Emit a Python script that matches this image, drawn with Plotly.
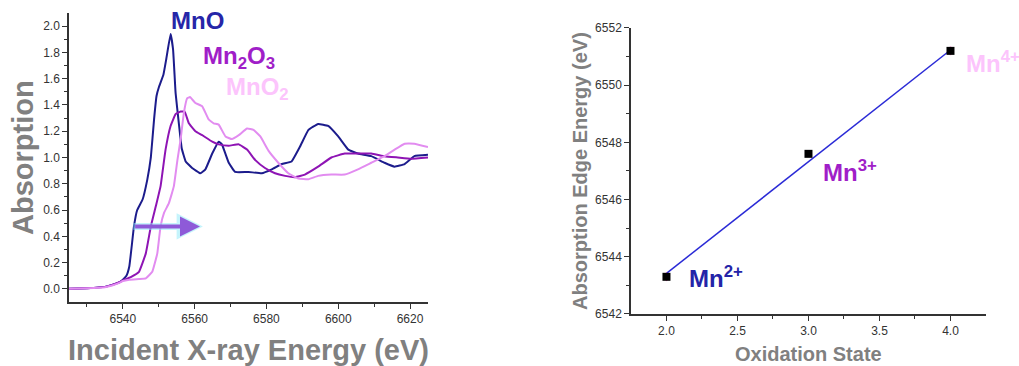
import plotly.graph_objects as go

# ---- Left panel: XANES spectra ----
mno_x = [6525, 6530, 6535, 6537, 6539, 6540, 6541, 6541.8, 6543.1, 6544, 6545.5, 6546.8, 6547.8, 6548.7,
         6549.4, 6550.1, 6551.3, 6552.1, 6553.3, 6554, 6554.7, 6555.6, 6556.4, 6557.5, 6559.3, 6561.6,
         6563, 6564.9, 6566.7, 6567.6, 6569.5, 6571.3, 6575, 6578.7, 6581.5, 6584.3, 6587, 6589.4,
         6591.7, 6594.4, 6597.2, 6600, 6602.8, 6605.5, 6609.2, 6612.9, 6615.7, 6618.5, 6621.2, 6625]
mno_y = [0.0, 0.005, 0.015, 0.03, 0.05, 0.07, 0.1, 0.17, 0.475, 0.6, 0.68, 0.83, 1.0, 1.29,
         1.47, 1.54, 1.63, 1.75, 1.94, 1.82, 1.49, 1.26, 1.07, 0.97, 0.92, 0.88,
         0.91, 1.03, 1.12, 1.10, 0.96, 0.89, 0.89, 0.88, 0.91, 0.95, 0.97, 1.085,
         1.21, 1.255, 1.24, 1.16, 1.06, 1.03, 1.01, 0.96, 0.93, 0.95, 1.01, 1.02]

mn2o3_x = [6525, 6530, 6535, 6537, 6539, 6540, 6542.2, 6544.5, 6546.4, 6547.8, 6549.2, 6550.5, 6551.9,
           6553.3, 6554.7, 6556.1, 6557.2, 6558.4, 6560.2, 6562.1, 6564.9, 6566.7, 6569.5, 6572.3,
           6574.6, 6576.9, 6579.6, 6582.4, 6585.2, 6588, 6590.7, 6594.4, 6598.1, 6601.8, 6605.5,
           6609.2, 6612.9, 6616.6, 6620.3, 6625]
mn2o3_y = [0.0, 0.005, 0.015, 0.03, 0.05, 0.065, 0.09, 0.13, 0.27, 0.475, 0.63, 0.78, 1.06,
           1.24, 1.33, 1.35, 1.35, 1.26, 1.2, 1.17, 1.12, 1.10, 1.09, 1.10,
           1.06, 0.98, 0.92, 0.88, 0.86, 0.85, 0.87, 0.93, 1.0, 1.03, 1.03,
           1.03, 1.01, 1.0, 0.99, 1.0]

mno2_x = [6525, 6530, 6535, 6537, 6539, 6540, 6541.8, 6544.5, 6546.4, 6548.2, 6549.6, 6550.5, 6551.5,
          6552.8, 6554.2, 6555.2, 6556.1, 6557, 6557.9, 6558.7, 6560.2, 6562.1, 6563.9, 6565.3,
          6566.7, 6568.6, 6570.4, 6572.3, 6574.6, 6576.4, 6578.3, 6580.6, 6583.3, 6586.1, 6588.9,
          6591.7, 6594.4, 6598.1, 6601.8, 6605.5, 6609.2, 6612.9, 6615.7, 6618.5, 6621.2, 6625]
mno2_y = [0.0, 0.004, 0.012, 0.025, 0.045, 0.06, 0.07, 0.075, 0.08, 0.13, 0.27, 0.475, 0.58,
          0.65, 0.78, 0.98, 1.14, 1.34, 1.45, 1.46, 1.415, 1.39, 1.29, 1.26,
          1.25, 1.16, 1.14, 1.17, 1.22, 1.21, 1.16, 1.05, 0.96, 0.88, 0.84,
          0.835, 0.86, 0.87, 0.87, 0.91, 0.96, 1.01, 1.06, 1.105, 1.105, 1.08]

# ---- Right panel: edge energy vs oxidation state ----
ox_state = [2.0, 3.0, 4.0]
edge_energy = [6543.3, 6547.6, 6551.2]
edge_err = [0.15, 0.0, 0.15]
fit_x = [2.0, 4.0]
fit_y = [6543.42, 6551.23]
ion_labels = ["Mn<sup>2+</sup>", "Mn<sup>3+</sup>", "Mn<sup>4+</sup>"]

C_MNO = "#1c1c8c"
C_MN2O3 = "#8e14b4"
C_MNO2 = "#e28cf0"
GRAY = "#808080"
AX = "#333333"
FONT = "Liberation Sans, Arial, sans-serif"

fig = go.Figure()
for xs, ys, col in [(mno_x, mno_y, C_MNO), (mn2o3_x, mn2o3_y, C_MN2O3), (mno2_x, mno2_y, C_MNO2)]:
    fig.add_trace(go.Scatter(x=xs, y=ys, mode="lines",
                             line=dict(color=col, width=2, shape="spline", smoothing=0.3),
                             xaxis="x", yaxis="y", showlegend=False, hoverinfo="skip"))

fig.add_trace(go.Scatter(x=fit_x, y=fit_y, mode="lines", line=dict(color="#2a2ad6", width=1.5),
                         xaxis="x2", yaxis="y2", showlegend=False))
fig.add_trace(go.Scatter(x=ox_state, y=edge_energy, mode="markers",
                         marker=dict(symbol="square", size=8, color="black"),
                         error_y=dict(type="data", array=edge_err, color="#ff66cc", thickness=1.5, width=0),
                         xaxis="x2", yaxis="y2", showlegend=False))

axis_common = dict(showline=True, linecolor=AX, linewidth=1.5, ticks="outside", ticklen=5, tickwidth=1.2,
                   tickcolor=AX, showgrid=False, zeroline=False, mirror=False, automargin=False,
                   tickfont=dict(family=FONT, size=12, color=AX))

fig.update_layout(
    width=1019, height=366, margin=dict(l=0, r=0, t=0, b=0, pad=0, autoexpand=False),
    paper_bgcolor="white", plot_bgcolor="white",
    xaxis=dict(domain=[0.0677, 0.42], range=[6525, 6625], tickvals=[6540, 6560, 6580, 6600, 6620],
               minor=dict(tickvals=[6530, 6550, 6570, 6590, 6610], ticks="outside", ticklen=3, tickcolor=AX),
               anchor="y", **axis_common),
    yaxis=dict(domain=[0.1749, 0.9645], range=[-0.1, 2.1], tickvals=[0, 0.2, 0.4, 0.6, 0.8, 1.0, 1.2, 1.4, 1.6, 1.8, 2.0],
               tickformat=".1f",
               minor=dict(tickvals=[0.1, 0.3, 0.5, 0.7, 0.9, 1.1, 1.3, 1.5, 1.7, 1.9], ticks="outside", ticklen=3, tickcolor=AX),
               anchor="x", **axis_common),
    xaxis2=dict(domain=[0.6192, 0.9676], range=[1.75, 4.25], tickvals=[2.0, 2.5, 3.0, 3.5, 4.0], tickformat=".1f",
                minor=dict(tickvals=[2.25, 2.75, 3.25, 3.75], ticks="outside", ticklen=3, tickcolor=AX),
                anchor="y2", **axis_common),
    yaxis2=dict(domain=[0.1421, 0.9235], range=[6542, 6552], tickvals=[6542, 6544, 6546, 6548, 6550, 6552],
                minor=dict(tickvals=[6543, 6545, 6547, 6549, 6551], ticks="outside", ticklen=3, tickcolor=AX),
                anchor="x2", **axis_common),
)

ann = []
ann.append(dict(text="<b>Absorption</b>", x=23 / 1019, y=1 - 158 / 366, xref="paper", yref="paper", textangle=-90,
                showarrow=False, font=dict(family=FONT, size=29, color=GRAY), xanchor="center", yanchor="middle"))
ann.append(dict(text="<b>Incident X-ray Energy (eV)</b>", x=248 / 1019, y=1 - 350 / 366, xref="paper", yref="paper",
                showarrow=False, font=dict(family=FONT, size=29, color=GRAY), xanchor="center", yanchor="middle"))
ann.append(dict(text="<b>Absorption Edge Energy (eV)</b>", x=580 / 1019, y=1 - 171 / 366, xref="paper", yref="paper",
                textangle=-90, showarrow=False, font=dict(family=FONT, size=20, color=GRAY), xanchor="center", yanchor="middle"))
ann.append(dict(text="<b>Oxidation State</b>", x=808 / 1019, y=1 - 354 / 366, xref="paper", yref="paper",
                showarrow=False, font=dict(family=FONT, size=20, color=GRAY), xanchor="center", yanchor="middle"))
ann.append(dict(text="<b>MnO</b>", x=169 / 1019, y=1 - 21 / 366, xref="paper", yref="paper", showarrow=False,
                font=dict(family=FONT, size=24, color="#2626a8"), xanchor="left", yanchor="middle"))
ann.append(dict(text="<b>Mn<sub>2</sub>O<sub>3</sub></b>", x=201 / 1019, y=1 - 57 / 366, xref="paper", yref="paper",
                showarrow=False, font=dict(family=FONT, size=24, color="#a01ec8"), xanchor="left", yanchor="middle"))
ann.append(dict(text="<b>MnO<sub>2</sub></b>", x=224 / 1019, y=1 - 88 / 366, xref="paper", yref="paper",
                showarrow=False, font=dict(family=FONT, size=24, color="#fcc4fc"), xanchor="left", yanchor="middle"))
ion_pos = [(687, 277, "#2424a8"), (821, 171, "#a01ec8"), (964, 62, "#fcc4fc")]
for lab, (px, py, col) in zip(ion_labels, ion_pos):
    ann.append(dict(text="<b>" + lab + "</b>", x=px / 1019, y=1 - py / 366, xref="paper", yref="paper",
                    showarrow=False, font=dict(family=FONT, size=24, color=col), xanchor="left", yanchor="middle"))
ann.append(dict(x=6562.3, y=0.475, ax=6542.5, ay=0.475, xref="x", yref="y", axref="x", ayref="y", text="",
                showarrow=True, arrowhead=2, arrowsize=0.75, arrowwidth=7, arrowcolor="rgba(140,235,250,0.5)"))
ann.append(dict(x=6561.5, y=0.475, ax=6543, ay=0.475, xref="x", yref="y", axref="x", ayref="y", text="",
                showarrow=True, arrowhead=2, arrowsize=1.0, arrowwidth=4, arrowcolor="#8e5ad8"))
fig.update_layout(annotations=ann)

fig.write_html("out.html")
